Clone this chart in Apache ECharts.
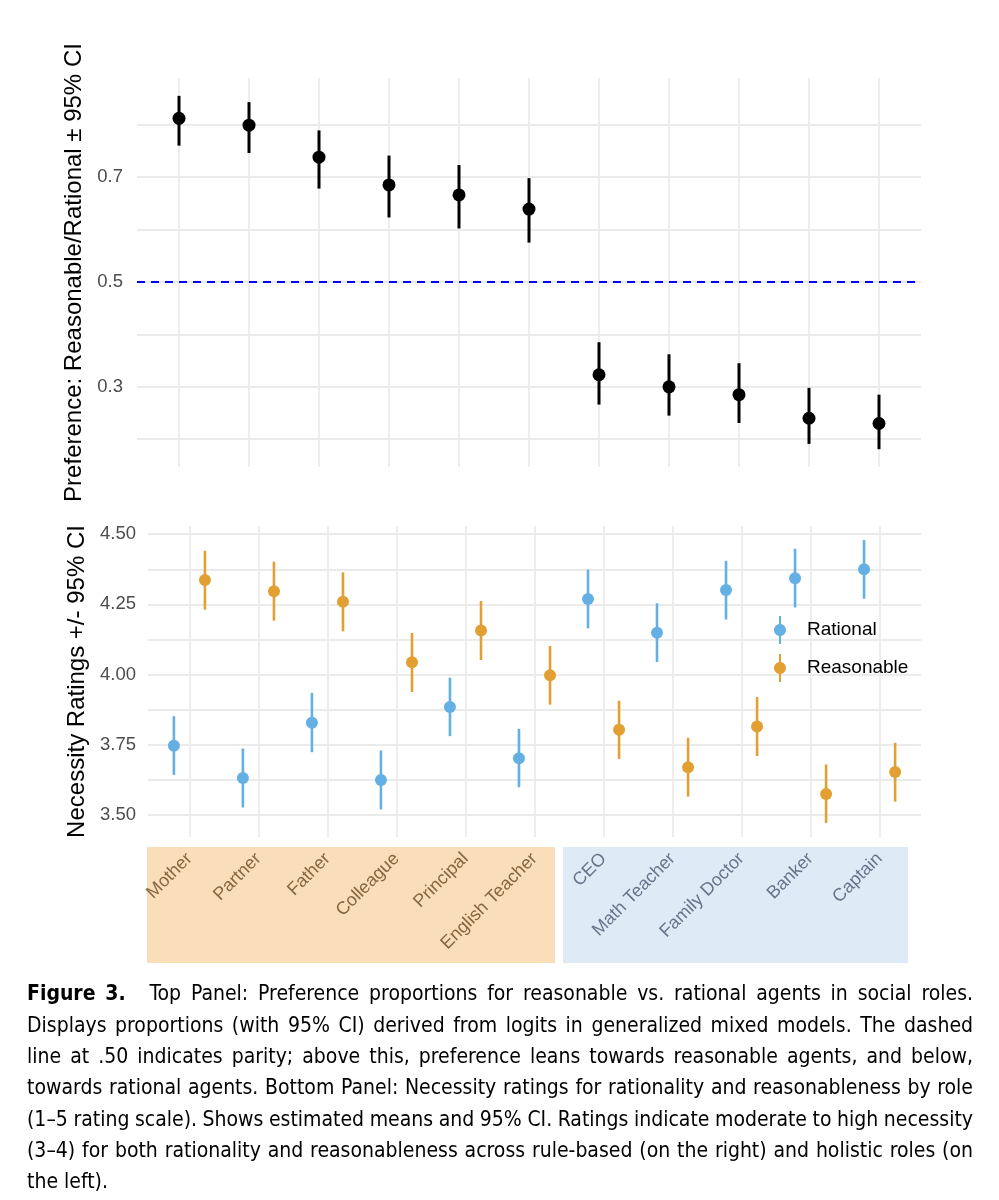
<!DOCTYPE html>
<html><head><meta charset="utf-8">
<script src="https://cdn.jsdelivr.net/npm/echarts@6/dist/echarts.min.js"></script>
<style>html,body{margin:0;padding:0;background:#fff}#c{width:999px;height:1200px}</style>
</head><body><div id="c"></div>
<script>
// ---------------- data ----------------
const roles = ['Mother','Partner','Father','Colleague','Principal','English Teacher','CEO','Math Teacher','Family Doctor','Banker','Captain'];
const holisticCount = 6; // first six roles are holistic, the rest rule-based
const roleTicks = [0,1,2,3,4,5,6,7,8,9,10]; // positions of the role categories

const prefMean = [0.812,0.799,0.738,0.685,0.666,0.639,0.323,0.300,0.285,0.240,0.230];
const prefLow  = [0.760,0.746,0.678,0.623,0.602,0.575,0.266,0.245,0.231,0.191,0.181];
const prefHigh = [0.855,0.843,0.789,0.741,0.723,0.698,0.385,0.362,0.345,0.298,0.285];

const ratMean = [3.747,3.632,3.829,3.625,3.885,3.702,4.269,4.149,4.301,4.343,4.375];
const ratLow  = [3.643,3.527,3.724,3.520,3.781,3.599,4.165,4.045,4.196,4.239,4.270];
const ratHigh = [3.852,3.737,3.935,3.730,3.989,3.807,4.374,4.254,4.405,4.448,4.479];

const reaMean = [4.337,4.297,4.259,4.044,4.157,3.998,3.804,3.670,3.815,3.575,3.653];
const reaLow  = [4.231,4.192,4.154,3.938,4.052,3.893,3.700,3.566,3.710,3.472,3.548];
const reaHigh = [4.441,4.402,4.364,4.148,4.262,4.102,3.907,3.775,3.920,3.680,3.757];

const parity = 0.5;
const prefLabelTicks = [0.3,0.5,0.7];
const prefGridTicks  = [0.2,0.3,0.4,0.5,0.6,0.7,0.8];
const needLabelTicks = [3.5,3.75,4.0,4.25,4.5];
const needGridTicks  = [3.5,3.625,3.75,3.875,4.0,4.125,4.25,4.375,4.5];

const captionLead = 'Figure 3.';
const captionLines = [
 'Top Panel: Preference proportions for reasonable vs. rational agents in social roles.',
 'Displays proportions (with 95% CI) derived from logits in generalized mixed models. The dashed',
 'line at .50 indicates parity; above this, preference leans towards reasonable agents, and below,',
 'towards rational agents. Bottom Panel: Necessity ratings for rationality and reasonableness by role',
 '(1\u20135 rating scale). Shows estimated means and 95% CI. Ratings indicate moderate to high necessity',
 '(3\u20134) for both rationality and reasonableness across rule-based (on the right) and holistic roles (on',
 'the left).'
];

// ---------------- styles ----------------
const FONT = "'Liberation Sans', Arial, sans-serif";
const CAPFONT = "'Liberation Sans Narrow', 'DejaVu Sans Condensed', 'Liberation Sans', sans-serif";
const BLUE = '#64B0E4', ORANGE = '#E2A033', GRID = '#EBEBEB';

function rows(m, l, h) { return roles.map((r, i) => [i, m[i], l[i], h[i]]); }

function pointRange(color, offset, lw, r) {
  return function (params, api) {
    const i = api.value(0);
    const c = api.coord([i, api.value(1)]);
    const lo = api.coord([i, api.value(2)]);
    const hi = api.coord([i, api.value(3)]);
    const unit = api.size([1, 0])[0];
    const x = c[0] + offset * unit;
    return { type: 'group', children: [
      { type: 'line', shape: { x1: x, y1: hi[1], x2: x, y2: lo[1] }, style: { stroke: color, lineWidth: lw } },
      { type: 'circle', shape: { cx: x, cy: c[1], r: r }, style: { fill: color } }
    ]};
  };
}

const iconPath = 'path://M5,0 L7,0 L7,28 L5,28 Z M6,8 C9.3,8 12,10.7 12,14 C12,17.3 9.3,20 6,20 C2.7,20 0,17.3 0,14 C0,10.7 2.7,8 6,8 Z';

// ---------------- caption layout (justified) ----------------
const mctx = document.createElement('canvas').getContext('2d');
function tw(t, font) { mctx.font = font; return mctx.measureText(t).width; }
const capSize = 21, capLeft = 27, capRight = 973, capTop = 995, capStep = 31.3;
const fN = capSize + 'px ' + CAPFONT, fB = 'bold ' + capSize + 'px ' + CAPFONT;
const capGraphics = [];
captionLines.forEach((line, k) => {
  const words = [];
  if (k === 0) captionLead.split(' ').forEach(w => words.push({ t: w, b: true }));
  line.split(' ').forEach(w => words.push({ t: w, b: false }));
  const extra = k === 0 ? 14 : 0;
  const wsum = words.reduce((s, w) => s + tw(w.t, w.b ? fB : fN), 0);
  const gaps = words.length - 1;
  const last = k === captionLines.length - 1;
  const sp = last ? tw(' ', fN) : (capRight - capLeft - wsum - extra) / gaps;
  let x = capLeft;
  const y = capTop + k * capStep;
  words.forEach((w, j) => {
    capGraphics.push({ type: 'text', x: x, y: y, silent: true,
      style: { text: w.t, fontSize: capSize, fontFamily: CAPFONT, fontWeight: w.b ? 'bold' : 'normal',
               fill: '#000', align: 'left', verticalAlign: 'middle' } });
    x += tw(w.t, w.b ? fB : fN) + sp + (k === 0 && j === 1 ? extra : 0);
  });
});

// ---------------- chart ----------------
const xCommon = {
  type: 'value', min: -0.6, max: 10.6,
  axisLine: { show: false },
  axisTick: { show: false, customValues: roleTicks },
  splitLine: { show: true, lineStyle: { color: GRID, width: 1.8 } }
};

const chart = echarts.init(document.getElementById('c'));
const option = {
  backgroundColor: '#fff',
  animation: false,
  textStyle: { fontFamily: FONT },
  grid: [
    { left: 137, right: 78, top: 78, height: 389 },
    { left: 148, right: 78, top: 526, height: 311 }
  ],
  xAxis: [
    Object.assign({ gridIndex: 0, axisLabel: { show: false } }, xCommon),
    Object.assign({ gridIndex: 1,
      axisLabel: { show: true, customValues: roleTicks, rotate: 45, margin: 19, fontSize: 18, fontFamily: FONT,
        formatter: v => (v < holisticCount ? '{h|' : '{r|') + roles[v] + '}',
        rich: { h: { color: '#87663F', fontSize: 18, fontFamily: FONT },
                r: { color: '#67758A', fontSize: 18, fontFamily: FONT } } } }, xCommon)
  ],
  yAxis: [
    { gridIndex: 0, type: 'value', min: 0.147, max: 0.889,
      name: 'Preference: Reasonable/Rational \u00b1 95% CI', nameLocation: 'middle', nameGap: 38,
      nameTextStyle: { fontSize: 24, color: '#000', fontFamily: FONT },
      axisLine: { show: false }, axisTick: { show: false, customValues: prefGridTicks },
      axisLabel: { customValues: prefLabelTicks, fontSize: 18.5, color: '#4D4D4D', margin: 14,
        formatter: v => v.toFixed(1) },
      splitLine: { show: true, lineStyle: { color: GRID, width: 1.8 } } },
    { gridIndex: 1, type: 'value', min: 3.422, max: 4.529,
      name: 'Necessity Ratings +/- 95% CI', nameLocation: 'middle', nameGap: 49,
      nameTextStyle: { fontSize: 24, color: '#000', fontFamily: FONT },
      axisLine: { show: false }, axisTick: { show: false, customValues: needGridTicks },
      axisLabel: { customValues: needLabelTicks, fontSize: 18.5, color: '#4D4D4D', margin: 12,
        formatter: v => v.toFixed(2) },
      splitLine: { show: true, lineStyle: { color: GRID, width: 1.8 } } }
  ],
  legend: {
    data: ['Rational', 'Reasonable'], orient: 'vertical', left: 769, top: 611,
    itemWidth: 12, itemHeight: 28, itemGap: 10, icon: iconPath, selectedMode: false,
    textStyle: { fontSize: 19, color: '#000', fontFamily: FONT, padding: [0, 0, 0, 16] }
  },
  series: [
    { type: 'line', xAxisIndex: 0, yAxisIndex: 0, data: [], silent: true,
      markLine: { silent: true, symbol: 'none', label: { show: false },
        lineStyle: { color: '#0000FF', type: [8, 6], width: 2 },
        data: [{ yAxis: parity }] } },
    { name: 'Preference', type: 'custom', xAxisIndex: 0, yAxisIndex: 0, clip: false,
      itemStyle: { color: '#000' }, encode: { x: 0, y: [1, 2, 3] },
      renderItem: pointRange('#000', 0, 3, 6.5), data: rows(prefMean, prefLow, prefHigh) },
    { name: 'Rational', type: 'custom', xAxisIndex: 1, yAxisIndex: 1, clip: false,
      itemStyle: { color: BLUE }, encode: { x: 0, y: [1, 2, 3] },
      renderItem: pointRange(BLUE, -0.225, 2.6, 6), data: rows(ratMean, ratLow, ratHigh) },
    { name: 'Reasonable', type: 'custom', xAxisIndex: 1, yAxisIndex: 1, clip: false,
      itemStyle: { color: ORANGE }, encode: { x: 0, y: [1, 2, 3] },
      renderItem: pointRange(ORANGE, 0.225, 2.6, 6), data: rows(reaMean, reaLow, reaHigh) }
  ],
  graphic: [
    { type: 'rect', z: -10, silent: true, shape: { x: 147, y: 847, width: 408, height: 116 }, style: { fill: '#F9DEB9' } },
    { type: 'rect', z: -10, silent: true, shape: { x: 563, y: 847, width: 345, height: 116 }, style: { fill: '#DFEAF7' } }
  ].concat(capGraphics)
};
chart.setOption(option);
</script>
</body></html>
